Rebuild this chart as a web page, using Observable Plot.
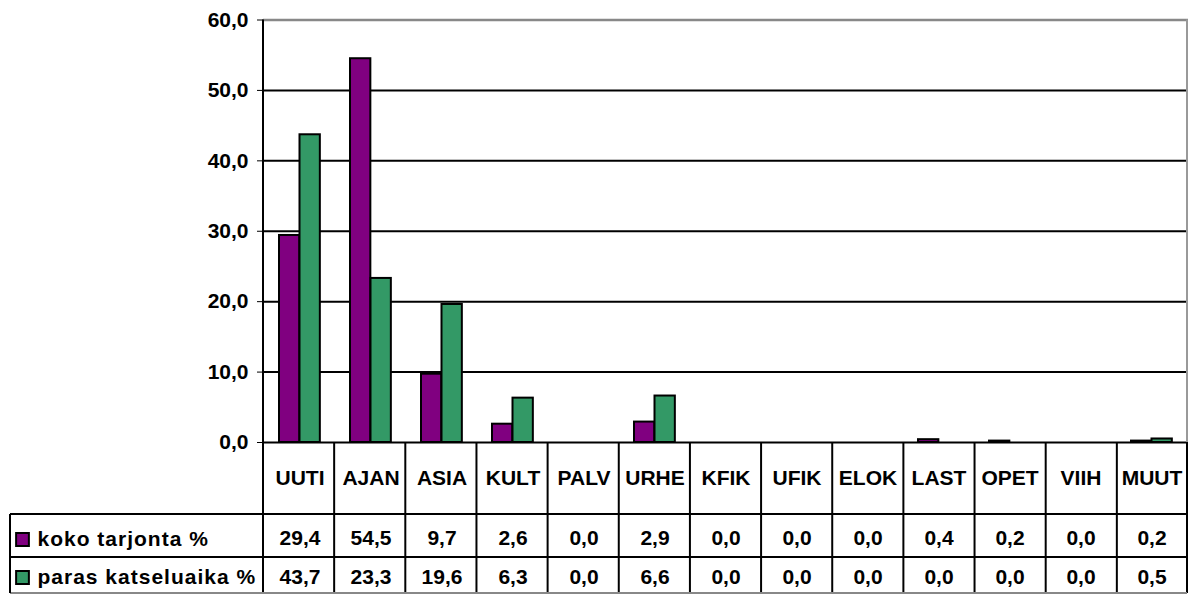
<!DOCTYPE html>
<html>
<head>
<meta charset="utf-8">
<script src="https://cdn.jsdelivr.net/npm/d3@7"></script>
<script src="https://cdn.jsdelivr.net/npm/@observablehq/plot@0.6"></script>
<style>
  html, body { margin: 0; padding: 0; background: #fff; }
  #chart svg { display: block; }
</style>
</head>
<body>
<div id="chart"></div>
<script>
// ---- data ----
const categories = ["UUTI", "AJAN", "ASIA", "KULT", "PALV", "URHE", "KFIK", "UFIK", "ELOK", "LAST", "OPET", "VIIH", "MUUT"];
const kokoTarjonta = [29.4, 54.5, 9.7, 2.6, 0.0, 2.9, 0.0, 0.0, 0.0, 0.4, 0.2, 0.0, 0.2];
const parasKatseluaika = [43.7, 23.3, 19.6, 6.3, 0.0, 6.6, 0.0, 0.0, 0.0, 0.0, 0.0, 0.0, 0.5];
const seriesNames = ["koko tarjonta %", "paras katseluaika %"];
const yTicks = [0, 10, 20, 30, 40, 50, 60];

// ---- styles ----
const PURPLE = "#800080";
const GREEN = "#339966";
const fmt = v => v.toFixed(1).replace(".", ",");

const kokoRows = categories.map((c, i) => ({category: c, value: kokoTarjonta[i]}));
const parasRows = categories.map((c, i) => ({category: c, value: parasKatseluaika[i]}));

const W = 1190, H = 594;
const mL = 263, mR = 2, mT = 19.5, mB = 152;
const step = (W - mL - mR) / categories.length;
const FS = 21;
const textOpts = {fill: "#000", fontSize: FS, fontWeight: "bold", lineAnchor: "middle"};

const plot = Plot.plot({
  width: W,
  height: H,
  marginLeft: mL,
  marginRight: mR,
  marginTop: mT,
  marginBottom: mB,
  style: {fontFamily: "'Liberation Sans', Arial, sans-serif", fontSize: FS + "px", fontWeight: "bold", color: "#000", background: "#fff"},
  x: {domain: categories, padding: 0, axis: null},
  y: {domain: [0, 60], ticks: yTicks, tickFormat: fmt, tickSize: 6, tickPadding: 9, label: null},
  marks: [
    Plot.ruleY(yTicks.filter(t => t > 0 && t < 60), {stroke: "#000", strokeWidth: 2}),
    Plot.ruleY([60], {stroke: "#888", strokeWidth: 2.5}),
    Plot.barY(kokoRows.filter(d => d.value > 0), {x: "category", y: "value", fill: PURPLE, stroke: "#000", strokeWidth: 2, insetLeft: 15, insetRight: step - 35.5}),
    Plot.barY(parasRows.filter(d => d.value > 0), {x: "category", y: "value", fill: GREEN, stroke: "#000", strokeWidth: 2, insetLeft: 35.5, insetRight: step - 56}),
    Plot.ruleY([0], {stroke: "#000", strokeWidth: 2}),
    // table texts
    Plot.text(categories, {x: d => d, frameAnchor: "bottom", dy: 36, ...textOpts}),
    Plot.text(kokoRows, {x: "category", text: d => fmt(d.value), frameAnchor: "bottom", dy: 96, ...textOpts}),
    Plot.text(parasRows, {x: "category", text: d => fmt(d.value), frameAnchor: "bottom", dy: 134.5, ...textOpts}),
    // legend column
    Plot.text([seriesNames[0]], {frameAnchor: "bottom-left", dx: 37 - mL, dy: 97, textAnchor: "start", ...textOpts}),
    Plot.text([seriesNames[1]], {frameAnchor: "bottom-left", dx: 37 - mL, dy: 135, textAnchor: "start", ...textOpts}),
    Plot.dot([seriesNames[0]], {frameAnchor: "bottom-left", dx: 22 - mL, dy: 97, symbol: "square", r: 7.2, fill: PURPLE, stroke: "#000", strokeWidth: 2}),
    Plot.dot([seriesNames[1]], {frameAnchor: "bottom-left", dx: 22 - mL, dy: 135, symbol: "square", r: 7.2, fill: GREEN, stroke: "#000", strokeWidth: 2})
  ]
});

document.getElementById("chart").appendChild(plot);

// letter spacing for legend labels
d3.select(plot).selectAll("text")
  .filter(function() { return seriesNames.includes(this.textContent); })
  .attr("letter-spacing", "1px");

// table / axis lines
const y0 = H - mB;
const yTop = mT;
const xRight = W - mR;
const g = d3.select(plot).append("g").attr("stroke-width", 2).attr("fill", "none");
const line = (x1, y1, x2, y2, stroke) => g.append("line").attr("x1", x1).attr("y1", y1).attr("x2", x2).attr("y2", y2).attr("stroke", stroke || "#000");
// y-axis line
line(mL, yTop, mL, y0);
// gray right border of plot area
line(xRight - 1, yTop, xRight - 1, y0, "#999");
// vertical table lines
for (let i = 0; i <= categories.length; i++) {
  const x = Math.min(mL + i * step, xRight - 1);
  line(x, y0, x, H - 1);
}
// horizontal table lines
line(10, y0 + 72, xRight - 1, y0 + 72);
line(10, y0 + 115, xRight - 1, y0 + 115);
line(10, H - 1, xRight - 1, H - 1, "#888");
line(10, y0 + 72, 10, H - 1);
</script>
</body>
</html>
